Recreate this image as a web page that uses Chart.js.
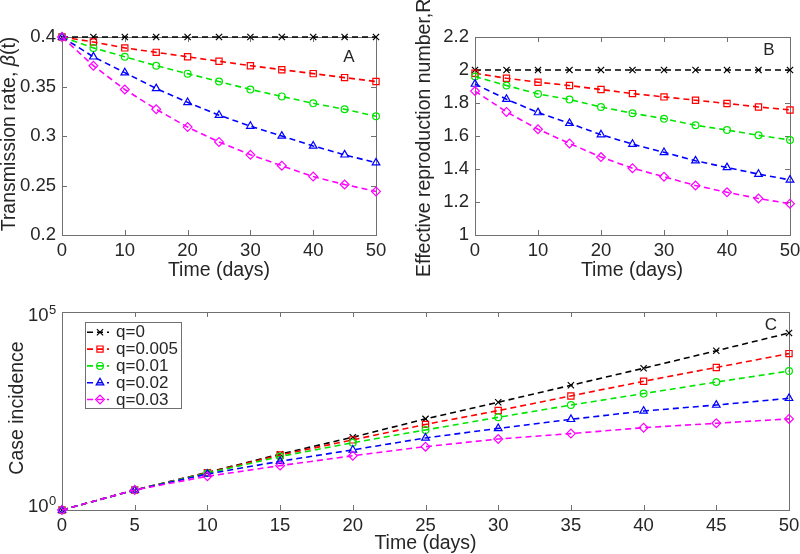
<!DOCTYPE html>
<html>
<head>
<meta charset="utf-8">
<script src="https://cdn.jsdelivr.net/npm/chart.js@4.4.0/dist/chart.umd.min.js"></script>
<style>
  html, body { margin: 0; padding: 0; background: #fff; }
  #wrap { position: relative; width: 800px; height: 554px; overflow: hidden; }
  #wrap canvas { position: absolute; left: 0; top: 0; }
</style>
</head>
<body>
<div id="wrap">
  <canvas id="chartA" width="800" height="554"></canvas>
  <canvas id="chartB" width="800" height="554"></canvas>
  <canvas id="chartC" width="800" height="554"></canvas>
</div>
<script>
// ---- data ----
const days = [0, 5, 10, 15, 20, 25, 30, 35, 40, 45, 50];
const qLabels = ['q=0', 'q=0.005', 'q=0.01', 'q=0.02', 'q=0.03'];

// panel A: transmission rate beta(t)
const betaQ0   = [0.4, 0.4, 0.4, 0.4, 0.4, 0.4, 0.4, 0.4, 0.4, 0.4, 0.4];
const betaQ005 = [0.4, 0.395, 0.389, 0.3845, 0.380, 0.3755, 0.371, 0.367, 0.363, 0.359, 0.355];
const betaQ01  = [0.4, 0.389, 0.380, 0.371, 0.363, 0.355, 0.347, 0.340, 0.333, 0.327, 0.320];
const betaQ02  = [0.4, 0.380, 0.364, 0.348, 0.334, 0.321, 0.310, 0.300, 0.290, 0.281, 0.273];
const betaQ03  = [0.4, 0.371, 0.347, 0.327, 0.309, 0.294, 0.281, 0.270, 0.259, 0.251, 0.244];

// panel B: effective reproduction number R_t
const rtQ0   = [2.0, 2.0, 2.0, 2.0, 2.0, 2.0, 2.0, 2.0, 2.0, 2.0, 2.0];
const rtQ005 = [1.98, 1.95, 1.926, 1.906, 1.882, 1.857, 1.837, 1.817, 1.797, 1.776, 1.758];
const rtQ01  = [1.96, 1.906, 1.855, 1.821, 1.776, 1.738, 1.705, 1.665, 1.636, 1.604, 1.576];
const rtQ02  = [1.915, 1.823, 1.742, 1.677, 1.608, 1.551, 1.501, 1.450, 1.409, 1.369, 1.334];
const rtQ03  = [1.872, 1.746, 1.641, 1.555, 1.472, 1.405, 1.353, 1.300, 1.259, 1.221, 1.190];

// panel C: case incidence (log scale)
const casesQ0   = [1, 3.2, 8.9, 25.7, 69, 200, 525, 1410, 3800, 10500, 29500];
const casesQ005 = [1, 3.2, 8.7, 24.5, 59, 145, 324, 760, 1780, 3980, 8900];
const casesQ01  = [1, 3.2, 8.5, 22.4, 50, 105, 219, 447, 871, 1700, 3240];
const casesQ02  = [1, 3.2, 8.1, 17, 33, 66, 115, 195, 316, 447, 661];
const casesQ03  = [1, 3.2, 7.1, 13.2, 23.4, 39.8, 62, 85, 120, 155, 200];

const betaTicks = [0.2, 0.25, 0.3, 0.35, 0.4];
const rtTicks = [1, 1.2, 1.4, 1.6, 1.8, 2, 2.2];
const caseTickExps = [0, 5];

// ---- styles ----
const FONT = "'Liberation Sans', Arial, sans-serif";
const TEXT = '#262626';
const BOX = '#707070';
const STYLES = [
  { color: '#000000', pointStyle: 'crossRot', radius: 4.4 },
  { color: '#ff0000', pointStyle: 'rect', radius: 4.4 },
  { color: '#00e600', pointStyle: 'circle', radius: 3.4 },
  { color: '#0000ff', pointStyle: 'triangle', radius: 4.4 },
  { color: '#ff00ff', pointStyle: 'rectRot', radius: 4.4 },
];

function makeDatasets(seriesList){
  return seriesList.map((vals, i) => ({
    label: qLabels[i],
    data: days.map((d, k) => ({ x: d, y: vals[k] })),
    borderColor: STYLES[i].color,
    borderWidth: 1.6,
    borderDash: [6, 4],
    pointStyle: STYLES[i].pointStyle,
    pointRadius: STYLES[i].radius,
    pointBorderWidth: 1.2,
    pointBorderColor: STYLES[i].color,
    pointBackgroundColor: 'rgba(0,0,0,0)',
    tension: 0,
    clip: false,
    order: -i,
  }));
}

// draws text made of several runs (normal/italic/subscript), centred on x,y
function drawRich(ctx, parts, x, y, rotated){
  ctx.save();
  ctx.translate(x, y);
  if (rotated) ctx.rotate(-Math.PI / 2);
  ctx.textBaseline = 'alphabetic';
  ctx.textAlign = 'left';
  ctx.fillStyle = TEXT;
  let total = 0;
  parts.forEach(p => { ctx.font = p.font; p.w = ctx.measureText(p.text).width; total += p.w; });
  let cx = -total / 2;
  parts.forEach(p => { ctx.font = p.font; ctx.fillText(p.text, cx, p.dy || 0); cx += p.w; });
  ctx.restore();
}

const f = (size, style) => `${style || ''} ${size}px ${FONT}`.trim();

// axes box with inward tick marks (matlab look)
const boxPlugin = {
  id: 'box',
  beforeDatasetsDraw(chart){
    const { ctx, chartArea: a, scales } = chart;
    ctx.save();
    ctx.strokeStyle = BOX;
    ctx.lineWidth = 1;
    ctx.setLineDash([]);
    ctx.strokeRect(a.left + 0.5, a.top + 0.5, a.right - a.left, a.bottom - a.top);
    ctx.beginPath();
    scales.x.ticks.forEach(t => {
      const px = Math.round(scales.x.getPixelForValue(t.value)) + 0.5;
      ctx.moveTo(px, a.bottom); ctx.lineTo(px, a.bottom - 5);
      ctx.moveTo(px, a.top); ctx.lineTo(px, a.top + 5);
    });
    if (scales.y.type !== 'logarithmic') {
      scales.y.ticks.forEach(t => {
        const py = Math.round(scales.y.getPixelForValue(t.value)) + 0.5;
        ctx.moveTo(a.left, py); ctx.lineTo(a.left + 5, py);
        ctx.moveTo(a.right, py); ctx.lineTo(a.right - 5, py);
      });
    }
    ctx.stroke();
    ctx.restore();
  },
  afterDraw(chart){
    const texts = chart.options.plugins.box.texts || [];
    texts.forEach(t => drawRich(chart.ctx, t.parts, t.x, t.y, t.rotated));
  }
};

function xScale(step){
  return {
    type: 'linear', min: 0, max: 50,
    afterBuildTicks: s => { s.ticks = days.filter(d => d % step === 0).map(v => ({ value: v })); },
    ticks: { color: TEXT, font: { family: FONT, size: 18.5 }, padding: 5, maxRotation: 0, autoSkip: false },
    grid: { display: false, drawTicks: false }, border: { display: false },
    afterFit: s => { s.height = 40; s.paddingLeft = 0; s.paddingRight = 0; }
  };
}

function yScale(ticksList){
  return {
    type: 'linear', min: ticksList[0], max: ticksList[ticksList.length - 1],
    afterBuildTicks: s => { s.ticks = ticksList.map(v => ({ value: v })); },
    ticks: { color: TEXT, font: { family: FONT, size: 18.5 }, padding: 6, callback: v => String(Number(v.toFixed(3))) },
    grid: { display: false, drawTicks: false }, border: { display: false },
    afterFit: s => { s.width = 62; s.paddingTop = 0; s.paddingBottom = 0; }
  };
}

function baseOptions(padding, scales, texts){
  return {
    responsive: false,
    animation: false,
    events: [],
    layout: { padding },
    scales,
    plugins: { legend: { display: false }, tooltip: { enabled: false }, box: { texts } }
  };
}

// Panel A
new Chart(document.getElementById('chartA'), {
  type: 'line',
  data: { datasets: makeDatasets([betaQ0, betaQ005, betaQ01, betaQ02, betaQ03]) },
  options: baseOptions({ left: 0, top: 37, right: 424, bottom: 279 },
    { x: xScale(10), y: yScale(betaTicks) },
    [
      { x: 15, y: 134, rotated: true, parts: [
        { text: 'Transmission rate, ', font: f(19.5) },
        { text: 'β', font: f(19.5, 'italic') },
        { text: '(t)', font: f(19.5) }] },
      { x: 219, y: 275.5, parts: [{ text: 'Time (days)', font: f(19.5) }] },
      { x: 349, y: 62, parts: [{ text: 'A', font: f(17) }] },
    ]),
  plugins: [boxPlugin]
});

// Panel B
new Chart(document.getElementById('chartB'), {
  type: 'line',
  data: { datasets: makeDatasets([rtQ0, rtQ005, rtQ01, rtQ02, rtQ03]) },
  options: baseOptions({ left: 413, top: 37, right: 10, bottom: 279 },
    { x: xScale(10), y: yScale(rtTicks) },
    [
      { x: 430, y: 136, rotated: true, parts: [
        { text: 'Effective reproduction number,R', font: f(19.5) },
        { text: 't', font: f(13), dy: 4 }] },
      { x: 632, y: 275.5, parts: [{ text: 'Time (days)', font: f(19.5) }] },
      { x: 769, y: 55, parts: [{ text: 'B', font: f(17) }] },
    ]),
  plugins: [boxPlugin]
});

// Panel C legend + power-of-ten labels
const legendPlugin = {
  id: 'qlegend',
  afterDatasetsDraw(chart){
    const { ctx, scales } = chart;
    ctx.save();
    // y tick labels 10^0 and 10^5
    ctx.fillStyle = TEXT;
    caseTickExps.forEach((e, i) => {
      const py = scales.y.getPixelForValue(Math.pow(10, e));
      const base = py + (i === 0 ? 2 : 9);
      ctx.font = f(18.5); ctx.textAlign = 'right'; ctx.textBaseline = 'alphabetic';
      ctx.fillText('10', 48.5, base);
      ctx.font = f(13); ctx.textAlign = 'left';
      ctx.fillText(String(e), 49, base - 7.5);
    });
    // legend box
    ctx.fillStyle = '#fff';
    ctx.strokeStyle = BOX;
    ctx.lineWidth = 1;
    ctx.fillRect(85.5, 322.5, 96, 86);
    ctx.strokeRect(85.5, 322.5, 96, 86);
    qLabels.forEach((lab, i) => {
      const y = 332.3 + i * 16.8;
      const st = STYLES[i];
      ctx.strokeStyle = st.color;
      ctx.lineWidth = 1.6;
      ctx.setLineDash([6, 4]);
      ctx.beginPath(); ctx.moveTo(87, y); ctx.lineTo(109, y); ctx.stroke();
      ctx.setLineDash([]);
      ctx.lineWidth = 1.2;
      ctx.fillStyle = 'rgba(0,0,0,0)';
      Chart.helpers.drawPoint(ctx, { pointStyle: st.pointStyle, radius: st.radius, borderWidth: 1.2, rotation: 0 }, 100, y);
      ctx.fillStyle = TEXT;
      ctx.font = f(17);
      ctx.textAlign = 'left';
      ctx.textBaseline = 'middle';
      ctx.fillText(lab, 116, y + 0.5);
    });
    ctx.restore();
  }
};

new Chart(document.getElementById('chartC'), {
  type: 'line',
  data: { datasets: makeDatasets([casesQ0, casesQ005, casesQ01, casesQ02, casesQ03]) },
  options: baseOptions({ left: 0, top: 312, right: 11, bottom: 4 },
    {
      x: xScale(5),
      y: {
        type: 'logarithmic', min: 1, max: 100000,
        ticks: { display: false },
        grid: { display: false, drawTicks: false }, border: { display: false },
        afterFit: s => { s.width = 62; s.paddingTop = 0; s.paddingBottom = 0; }
      }
    },
    [
      { x: 23, y: 408, rotated: true, parts: [{ text: 'Case incidence', font: f(19.5) }] },
      { x: 425.5, y: 549, parts: [{ text: 'Time (days)', font: f(19.5) }] },
      { x: 771, y: 330, parts: [{ text: 'C', font: f(17) }] },
    ]),
  plugins: [boxPlugin, legendPlugin]
});
</script>
</body>
</html>
